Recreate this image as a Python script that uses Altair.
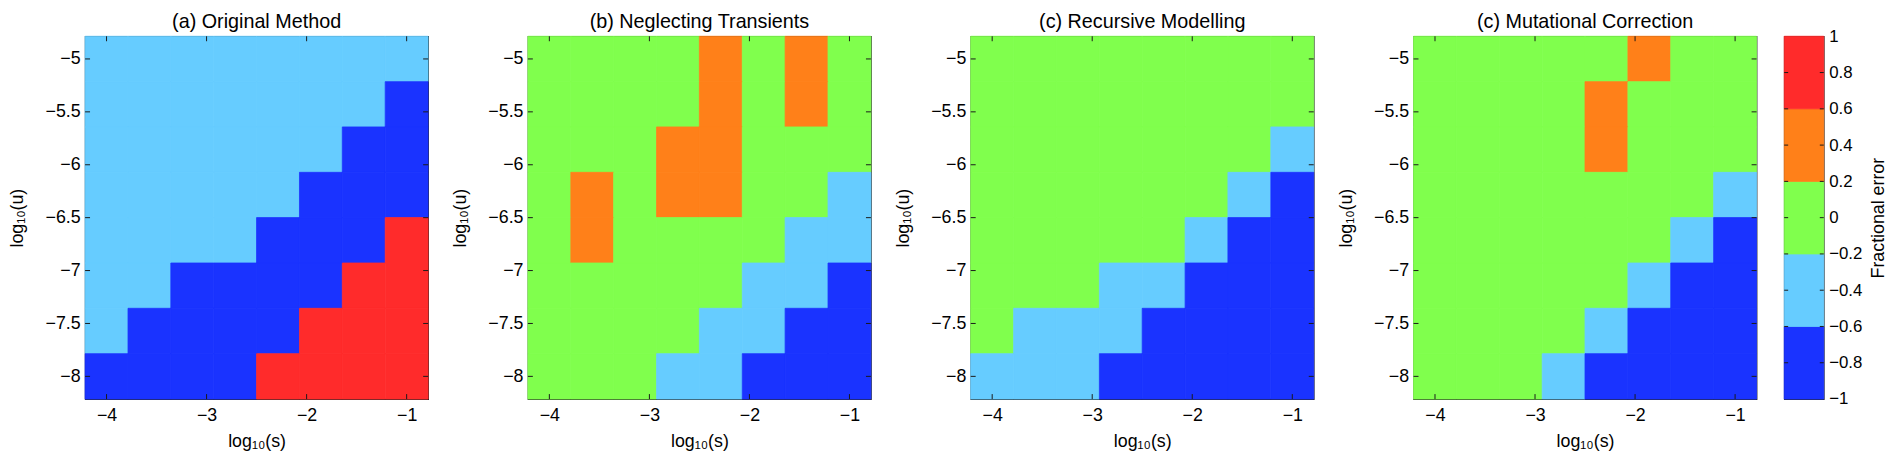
import altair as alt
import pandas as pd

# ---- data ----
s_centers = [-4.0, -3.571, -3.143, -2.714, -2.286, -1.857, -1.429, -1.0]
u_centers = [-5.0, -5.429, -5.857, -6.286, -6.714, -7.143, -7.571, -8.0]  # top -> bottom
half_step = 0.2143

B, L, G, O, R = -0.8, -0.4, 0.0, 0.4, 0.8

grid_a = [
    [L, L, L, L, L, L, L, L],
    [L, L, L, L, L, L, L, B],
    [L, L, L, L, L, L, B, B],
    [L, L, L, L, L, B, B, B],
    [L, L, L, L, B, B, B, R],
    [L, L, B, B, B, B, R, R],
    [L, B, B, B, B, R, R, R],
    [B, B, B, B, R, R, R, R],
]
grid_b = [
    [G, G, G, G, O, G, O, G],
    [G, G, G, G, O, G, O, G],
    [G, G, G, O, O, G, G, G],
    [G, O, G, O, O, G, G, L],
    [G, O, G, G, G, G, L, L],
    [G, G, G, G, G, L, L, B],
    [G, G, G, G, L, L, B, B],
    [G, G, G, L, L, B, B, B],
]
grid_c = [
    [G, G, G, G, G, G, G, G],
    [G, G, G, G, G, G, G, G],
    [G, G, G, G, G, G, G, L],
    [G, G, G, G, G, G, L, B],
    [G, G, G, G, G, L, B, B],
    [G, G, G, L, L, B, B, B],
    [G, L, L, L, B, B, B, B],
    [L, L, L, B, B, B, B, B],
]
grid_d = [
    [G, G, G, G, G, O, G, G],
    [G, G, G, G, O, G, G, G],
    [G, G, G, G, O, G, G, G],
    [G, G, G, G, G, G, G, L],
    [G, G, G, G, G, G, L, B],
    [G, G, G, G, G, L, B, B],
    [G, G, G, G, L, B, B, B],
    [G, G, G, L, B, B, B, B],
]
titles = ["(a) Original Method", "(b) Neglecting Transients",
          "(c) Recursive Modelling", "(c) Mutational Correction"]

x_ticks = [-4, -3, -2, -1]
y_ticks = [-8, -7.5, -7, -6.5, -6, -5.5, -5]
cb_ticks = [-1, -0.8, -0.6, -0.4, -0.2, 0, 0.2, 0.4, 0.6, 0.8, 1]
cb_lo = [-1, -0.6, -0.2, 0.2, 0.6]
cb_hi = [-0.6, -0.2, 0.2, 0.6, 1]
cb_mid = [-0.8, -0.4, 0.0, 0.4, 0.8]
thresholds = [-0.6, -0.2, 0.2, 0.6]
colors = ["#1a33ff", "#66ccff", "#80ff4d", "#ff8019", "#ff2b2b"]

# ---- styling ----
W, H = 347, 367
TL = 5
FONT = "Liberation Sans"
FS = 18
xdom = [s_centers[0] - half_step, s_centers[-1] + half_step]
ydom = [u_centers[-1] - half_step, u_centers[0] + half_step]
color_scale = alt.Scale(type="threshold", domain=thresholds, range=colors)

x_axis = alt.Axis(values=x_ticks, format="~g", title="log₁₀(s)",
                  labelPadding=8, titlePadding=8,
                  labelFontSize=FS, titleFontSize=FS, labelFont=FONT, titleFont=FONT)
y_axis = alt.Axis(values=y_ticks, format="~g", title="log₁₀(u)",
                  labelPadding=5, titleX=-68, titleBaseline="middle",
                  labelFontSize=FS, titleFontSize=FS, labelFont=FONT, titleFont=FONT)


def panel(title, grid):
    rows = []
    for r, u in enumerate(u_centers):
        for c, s in enumerate(s_centers):
            rows.append(dict(x=s - half_step, x2=s + half_step,
                             y=u - half_step, y2=u + half_step, v=grid[r][c]))
    df = pd.DataFrame(rows)
    xs = alt.Scale(domain=xdom, nice=False, zero=False)
    ys = alt.Scale(domain=ydom, nice=False, zero=False)
    heat = alt.Chart(df).mark_rect(strokeWidth=0.8).encode(
        x=alt.X("x:Q", scale=xs, axis=x_axis),
        x2="x2",
        y=alt.Y("y:Q", scale=ys, axis=y_axis),
        y2="y2",
        color=alt.Color("v:Q", scale=color_scale, legend=None),
        stroke=alt.Stroke("v:Q", scale=color_scale, legend=None),
    )
    xt = pd.DataFrame({"t": x_ticks})
    yt = pd.DataFrame({"t": y_ticks})
    tb = alt.Chart(xt).mark_rule(color="#1a1a1a", strokeWidth=1).encode(
        x=alt.X("t:Q", scale=xs, axis=x_axis), y=alt.value(H), y2=alt.value(H - TL))
    tt = alt.Chart(xt).mark_rule(color="#1a1a1a", strokeWidth=1).encode(
        x=alt.X("t:Q", scale=xs, axis=x_axis), y=alt.value(0), y2=alt.value(TL))
    tl = alt.Chart(yt).mark_rule(color="#1a1a1a", strokeWidth=1).encode(
        y=alt.Y("t:Q", scale=ys, axis=y_axis), x=alt.value(0), x2=alt.value(TL))
    tr = alt.Chart(yt).mark_rule(color="#1a1a1a", strokeWidth=1).encode(
        y=alt.Y("t:Q", scale=ys, axis=y_axis), x=alt.value(W), x2=alt.value(W - TL))
    return alt.layer(heat, tb, tt, tl, tr).properties(
        width=W, height=H,
        title=alt.TitleParams(title, fontSize=20, font=FONT, fontWeight="normal",
                              offset=4, color="black"))


panels = [panel(t, g) for t, g in zip(titles, [grid_a, grid_b, grid_c, grid_d])]

cb_df = pd.DataFrame({"lo": cb_lo, "hi": cb_hi, "v": cb_mid})
cb_scale = alt.Scale(domain=[-1, 1], nice=False, zero=False)
cb_axis = alt.Axis(orient="right", values=cb_ticks, format="~g",
                   title="Fractional error", titleAngle=270, titleBaseline="middle",
                   titleX=55, labelPadding=5,
                   labelFontSize=17, titleFontSize=FS, labelFont=FONT, titleFont=FONT)
cb_rect = alt.Chart(cb_df).mark_rect(strokeWidth=0.8).encode(
    y=alt.Y("lo:Q", scale=cb_scale, axis=cb_axis),
    y2="hi",
    x=alt.value(0), x2=alt.value(40),
    color=alt.Color("v:Q", scale=color_scale, legend=None),
    stroke=alt.Stroke("v:Q", scale=color_scale, legend=None),
)
cbt = pd.DataFrame({"t": cb_ticks[1:-1]})
cb_tl = alt.Chart(cbt).mark_rule(color="#1a1a1a").encode(
    y=alt.Y("t:Q", scale=cb_scale, axis=cb_axis), x=alt.value(0), x2=alt.value(4))
cb_tr = alt.Chart(cbt).mark_rule(color="#1a1a1a").encode(
    y=alt.Y("t:Q", scale=cb_scale, axis=cb_axis), x=alt.value(36), x2=alt.value(40))
cbar = alt.layer(cb_rect, cb_tl, cb_tr).properties(width=40, height=H)

inner = alt.hconcat(*panels, spacing=21)
chart = alt.hconcat(inner, cbar, spacing=24).properties(padding=0).configure_axis(
    labelFont=FONT, titleFont=FONT, labelFontSize=FS, titleFontSize=FS,
    titleFontWeight="normal", labelColor="black", titleColor="black",
    ticks=False, domain=False, grid=False,
).configure_view(stroke="#262626", strokeWidth=1.2)

chart.save("out.html", embed_options={"renderer": "svg", "actions": False})
